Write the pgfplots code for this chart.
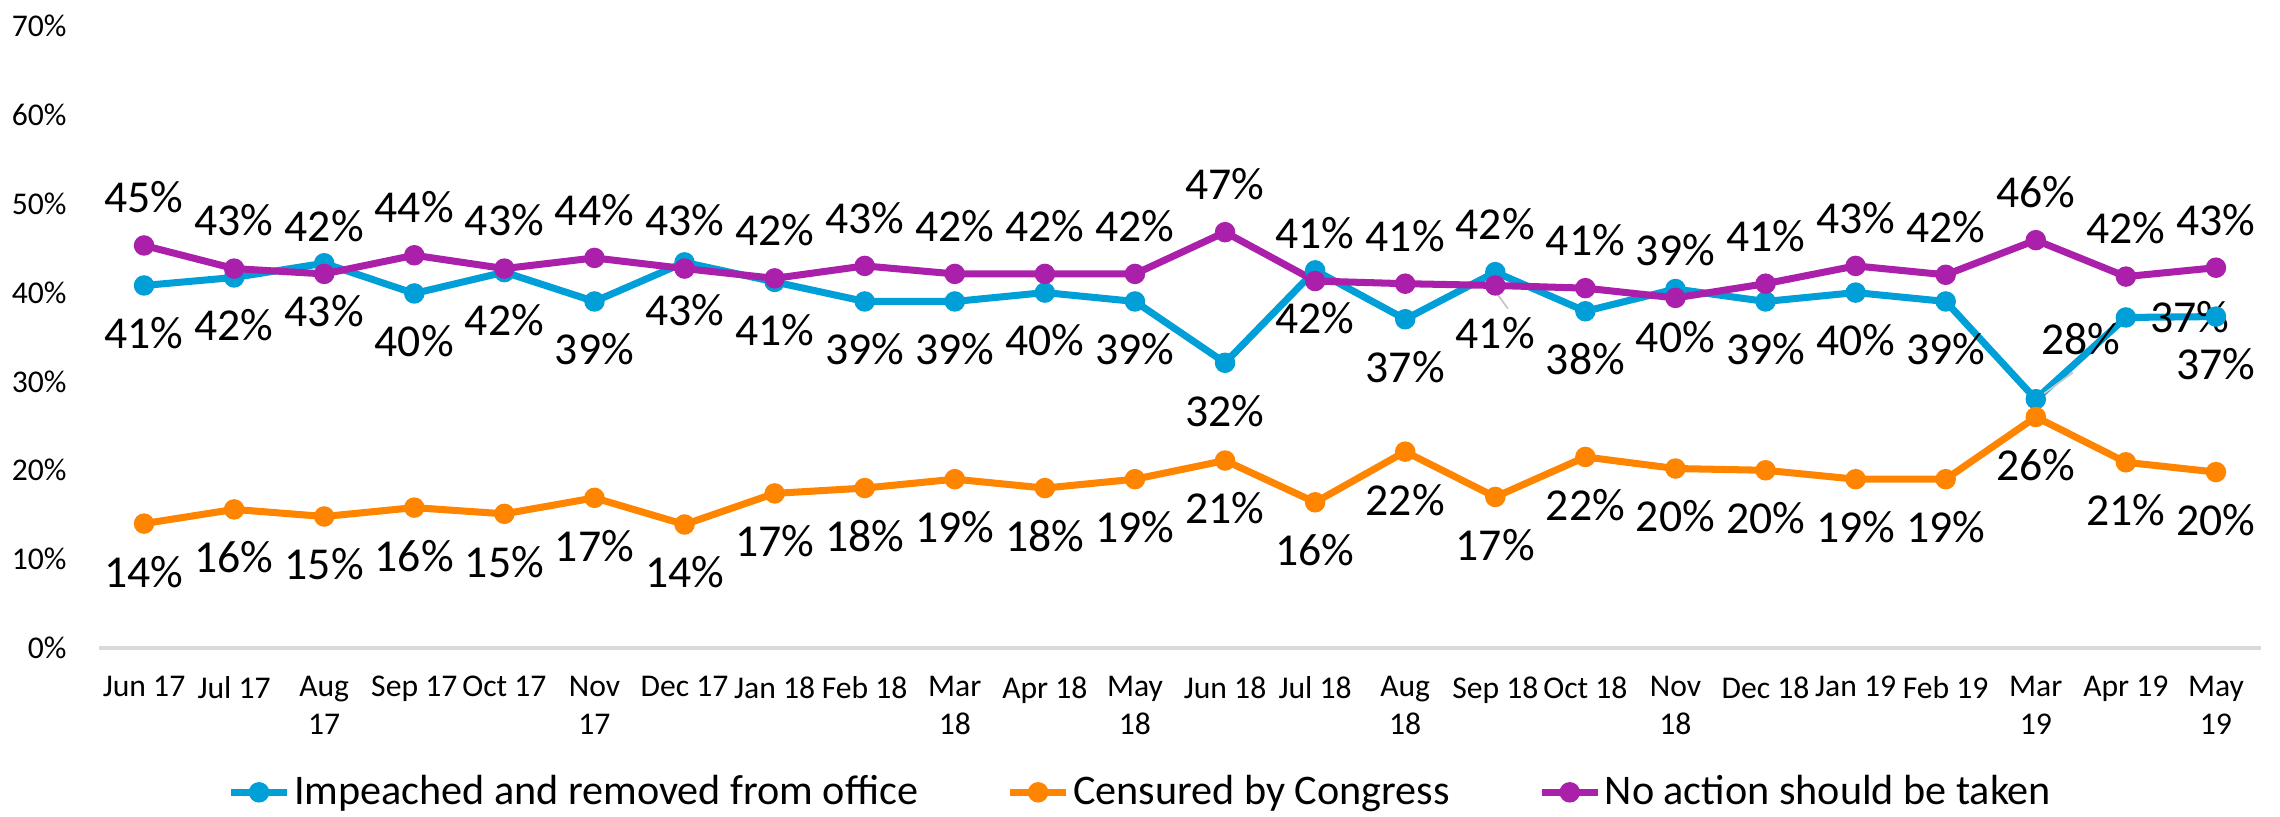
\documentclass[border=0pt]{standalone}
\usepackage{fontspec}
\setmainfont{Carlito}
\usepackage{pgfplots}
\usepackage{pgfplotstable}
\pgfplotsset{compat=1.18}

\definecolor{impblue}{HTML}{009FD8}
\definecolor{cenorange}{HTML}{FF8400}
\definecolor{nopurple}{HTML}{AA20AA}
\definecolor{axisgray}{HTML}{D9D9D9}

\pgfplotsset{
    datalabels/.style={
        point meta=explicit,
        nodes near coords={\pgfmathprintnumber{\pgfplotspointmeta}\%},
        visualization depends on=\thisrow{dx}\as\dx,
        visualization depends on=\thisrow{dy}\as\dy,
        every node near coord/.append style={anchor=center, xshift=\dx mm, yshift=\dy mm,
            text=black, font=\fontsize{13}{15}\selectfont, inner sep=0pt},
    },
}

% x y label label-xshift(mm) label-yshift(mm)
\pgfplotstableread{
x  y    lab dx  dy
0  40.8 41  0   -4.8
1  41.7 42  0   -4.8
2  43.3 43  0   -4.8
3  39.9 40  0   -4.8
4  42.3 42  0   -4.8
5  39.0 39  0   -4.8
6  43.4 43  0   -4.8
7  41.2 41  0   -4.8
8  39.0 39  0   -4.8
9  39.0 39  0   -4.8
10 40.0 40  0   -4.8
11 39.0 39  0   -4.8
12 32.1 32  0   -4.8
13 42.5 42  0   -4.8
14 37.0 37  0   -4.8
15 42.3 42  0   4.8
16 37.9 38  0   -4.8
17 40.4 40  0   -4.8
18 39.0 39  0   -4.8
19 40.0 40  0   -4.8
20 39.0 39  0   -4.8
21 28.0 28  4.5 6.0
22 37.2 37  6.4 0
23 37.3 37  0   -4.8
}\imp

\pgfplotstableread{
x  y    lab dx dy
0  14.0 14  0  -4.8
1  15.6 16  0  -4.8
2  14.8 15  0  -4.8
3  15.8 16  0  -4.8
4  15.1 15  0  -4.8
5  16.9 17  0  -4.8
6  13.9 14  0  -4.8
7  17.4 17  0  -4.8
8  18.0 18  0  -4.8
9  19.0 19  0  -4.8
10 18.0 18  0  -4.8
11 19.0 19  0  -4.8
12 21.1 21  0  -4.8
13 16.4 16  0  -4.8
14 22.1 22  0  -4.8
15 17.0 17  0  -4.8
16 21.5 22  0  -4.8
17 20.2 20  0  -4.8
18 20.0 20  0  -4.8
19 19.0 19  0  -4.8
20 19.0 19  0  -4.8
21 26.0 26  0  -4.8
22 20.9 21  0  -4.8
23 19.8 20  0  -4.8
}\cen

\pgfplotstableread{
x  y    lab dx dy
0  45.3 45  0  4.8
1  42.7 43  0  4.8
2  42.1 42  0  4.8
3  44.2 44  0  4.8
4  42.7 43  0  4.8
5  43.9 44  0  4.8
6  42.7 43  0  4.8
7  41.6 42  0  4.8
8  43.0 43  0  4.8
9  42.1 42  0  4.8
10 42.1 42  0  4.8
11 42.1 42  0  4.8
12 46.8 47  0  4.8
13 41.3 41  0  4.8
14 41.0 41  0  4.8
15 40.8 41  0  -4.8
16 40.5 41  0  4.8
17 39.4 39  0  4.8
18 41.0 41  0  4.8
19 43.0 43  0  4.8
20 42.0 42  0  4.8
21 45.9 46  0  4.8
22 41.8 42  0  4.8
23 42.8 43  0  4.8
}\none

\begin{document}
\begin{tikzpicture}
\useasboundingbox (-9.9mm,-16.8mm) rectangle (218.1mm,64.8mm);
\begin{axis}[
    at={(0,0)}, anchor=south west,
    scale only axis,
    width=216.2mm, height=62.2mm,
    clip=false,
    xmin=-0.5, xmax=23.5,
    ymin=0, ymax=70,
    xtick={0,...,23},
    xticklabels={Jun 17, Jul 17, {Aug\\17}, Sep 17, Oct 17, {Nov\\17}, Dec 17,
        Jan 18, Feb 18, {Mar\\18}, Apr 18, {May\\18}, Jun 18, Jul 18, {Aug\\18},
        Sep 18, Oct 18, {Nov\\18}, Dec 18, Jan 19, Feb 19, {Mar\\19}, Apr 19, {May\\19}},
    ytick={0,10,...,70},
    yticklabel={\pgfmathprintnumber{\tick}\%},
    /pgf/number format/assume math mode=true,
    axis x line*=bottom,
    axis y line*=left,
    x axis line style={draw=axisgray, line width=0.9pt},
    y axis line style={draw=none},
    major tick length=0pt,
    tick style={draw=none},
    xticklabel style={font=\fontsize{9}{10.8}\selectfont, align=center, anchor=north, yshift=-1.6mm},
    yticklabel style={font=\fontsize{9}{10.8}\selectfont, anchor=east, xshift=-2mm},
    legend columns=3,
    legend style={at={(0.482,-0.232)}, anchor=center, draw=none, fill=none,
        font=\fontsize{12}{14}\selectfont,
        nodes={inner sep=1pt},
        /tikz/every even column/.append style={column sep=8.5mm}},
    legend image code/.code={\draw[mark repeat=2,mark phase=2, line width=2pt]
        plot coordinates {(0cm,0cm) (0.28cm,0cm) (0.56cm,0cm)};},
]
\addplot[color=impblue, line width=2pt, mark=*, mark size=1.9pt, datalabels] table[x=x, y=y, meta=lab] {\imp};
\addplot[color=cenorange, line width=2pt, mark=*, mark size=1.9pt, datalabels] table[x=x, y=y, meta=lab] {\cen};
\addplot[color=nopurple, line width=2pt, mark=*, mark size=1.9pt, datalabels] table[x=x, y=y, meta=lab] {\none};
% leader lines of moved labels
\addplot[forget plot, draw=gray!45, line width=0.5pt, mark=none] coordinates {(14.98,40.4) (15.14,38.2)};
\addplot[forget plot, draw=gray!45, line width=0.5pt, mark=none] coordinates {(21.02,28.1) (21.41,31.0)};
\addplot[forget plot, draw=gray!45, line width=0.5pt, mark=none] coordinates {(21.95,37.4) (22.08,37.4)};
\legend{Impeached and removed from office, Censured by Congress, No action should be taken}
\end{axis}
\end{tikzpicture}
\end{document}
